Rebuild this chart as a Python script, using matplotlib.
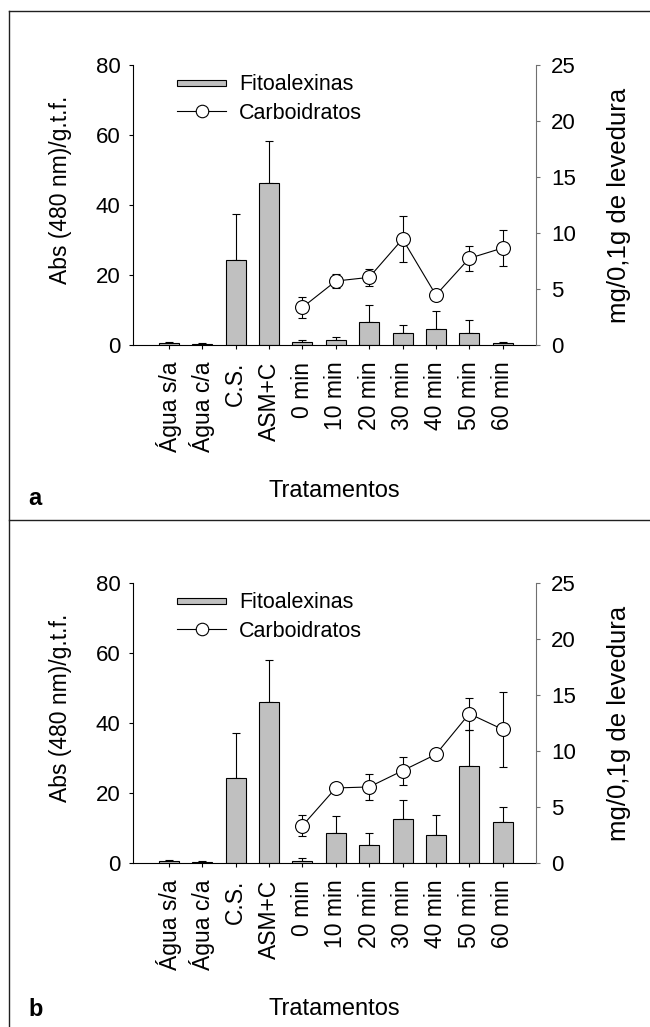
import numpy as np
import matplotlib
matplotlib.use("Agg")
import matplotlib.pyplot as plt
from matplotlib.lines import Line2D
from matplotlib.patches import Rectangle
from matplotlib.legend_handler import HandlerPatch

plt.rcParams['font.family'] = ['Liberation Sans', 'DejaVu Sans']

categorias = ["Água s/a", "Água c/a", "C.S.", "ASM+C", "0 min", "10 min",
              "20 min", "30 min", "40 min", "50 min", "60 min"]

# painel a
fito_a = [0.5, 0.4, 24.2, 46.2, 0.8, 1.3, 6.6, 3.5, 4.6, 3.3, 0.7]
fito_a_err = [0.5, 0.3, 13.1, 12.0, 0.5, 0.9, 4.7, 2.1, 5.1, 3.8, 0.2]
carb_a = [3.36, 5.71, 6.04, 9.46, 4.46, 7.74, 8.66]
carb_a_err = [0.93, 0.65, 0.78, 2.07, 0.3, 1.14, 1.6]

# painel b
fito_b = [0.5, 0.4, 24.2, 46.1, 0.7, 8.5, 5.2, 12.7, 8.0, 27.6, 11.8]
fito_b_err = [0.5, 0.2, 13.0, 12.0, 0.6, 4.8, 3.3, 5.4, 5.8, 10.5, 4.3]
carb_b = [3.33, 6.70, 6.79, 8.24, 9.70, 13.33, 11.93]
carb_b_err = [0.93, 0.3, 1.19, 1.24, 0.3, 1.43, 3.33]

W, H = 650, 1027
fig = plt.figure(figsize=(W / 100, H / 100), dpi=100)


def thin_bar(legend, orig_handle, xdescent, ydescent, width, height, fontsize):
    return Rectangle((-xdescent, -ydescent + height * 0.3), width, height * 0.4)


def painel(top_px, base_px, fito, fito_err, carb, carb_err, letra, y_letra):
    left, right = 133, 536
    ax = fig.add_axes([left / W, 1 - base_px / H, (right - left) / W, (base_px - top_px) / H])
    x = np.arange(len(categorias))
    ax.errorbar(x, fito, yerr=[np.zeros(len(fito)), fito_err], fmt='none',
                ecolor='black', elinewidth=0.8, capsize=3, capthick=0.8, zorder=1)
    ax.bar(x, fito, width=0.6, color='#c0c0c0', edgecolor='black', linewidth=0.8, zorder=2)
    ax.set_xlim(-1.08, 11.0)
    ax.set_ylim(0, 80)
    ax.set_yticks([0, 20, 40, 60, 80])
    ax.set_xticks(x)
    ax.set_xticklabels(categorias, rotation=90, fontsize=16.5)
    ax.tick_params(axis='x', direction='out', length=3, width=0.8, pad=9)
    ax.tick_params(axis='y', direction='out', length=3, width=0.8, pad=6, labelsize=16)
    ax.spines['top'].set_visible(False)
    ax.spines['right'].set_visible(False)
    for s in ('left', 'bottom'):
        ax.spines[s].set_linewidth(0.8)
    ax.set_ylabel('Abs (480 nm)/g.t.f.', fontsize=16.5)
    ax.yaxis.set_label_coords(-0.151, 0.554)
    ax.set_xlabel('Tratamentos', fontsize=17, labelpad=20)

    ax2 = ax.twinx()
    xc = np.arange(4, len(categorias))
    ax2.errorbar(xc, carb, yerr=carb_err, fmt='-o', color='black', lw=0.8,
                 ms=10, mfc='white', mec='black', mew=0.8,
                 elinewidth=0.8, capsize=3, capthick=0.8)
    ax2.set_ylim(0, 25)
    ax2.set_yticks([0, 5, 10, 15, 20, 25])
    for s in ('top', 'left', 'bottom'):
        ax2.spines[s].set_visible(False)
    ax2.spines['right'].set_color('#707070')
    ax2.spines['right'].set_linewidth(0.8)
    ax2.tick_params(axis='y', direction='out', length=3, width=0.8, color='#707070',
                    labelcolor='black', pad=8, labelsize=16)
    ax2.set_ylabel('mg/0,1g de levedura', fontsize=18.5, labelpad=22)

    h_bar = Rectangle((0, 0), 1, 1, facecolor='#c0c0c0', edgecolor='black', linewidth=0.8)
    h_carb = Line2D([], [], color='black', lw=0.8, marker='o', ms=9,
                    mfc='white', mec='black', mew=0.8)
    ax2.legend([h_bar, h_carb], ['Fitoalexinas', 'Carboidratos'],
               handler_map={Rectangle: HandlerPatch(patch_func=thin_bar)},
               loc='upper left', bbox_to_anchor=(0.109, 0.967), frameon=False,
               borderpad=0, borderaxespad=0, handlelength=2.3, handletextpad=0.6,
               labelspacing=0.35, fontsize=15.5)

    fig.text(28 / W, 1 - y_letra / H, letra, fontsize=17, fontweight='bold', va='center')


painel(65, 345, fito_a, fito_a_err, carb_a, carb_a_err, 'a', 498)
painel(583, 863, fito_b, fito_b_err, carb_b, carb_b_err, 'b', 1010)

# moldura
fx = 9 / W
frame = dict(transform=fig.transFigure, color='#202020', lw=1)
fig.add_artist(Line2D([fx, fx], [0, 1 - 11 / H], **frame))
fig.add_artist(Line2D([fx, 1], [1 - 11 / H, 1 - 11 / H], **frame))
fig.add_artist(Line2D([fx, 1], [1 - 520 / H, 1 - 520 / H], **frame))

fig.savefig('out.png', dpi=100)
